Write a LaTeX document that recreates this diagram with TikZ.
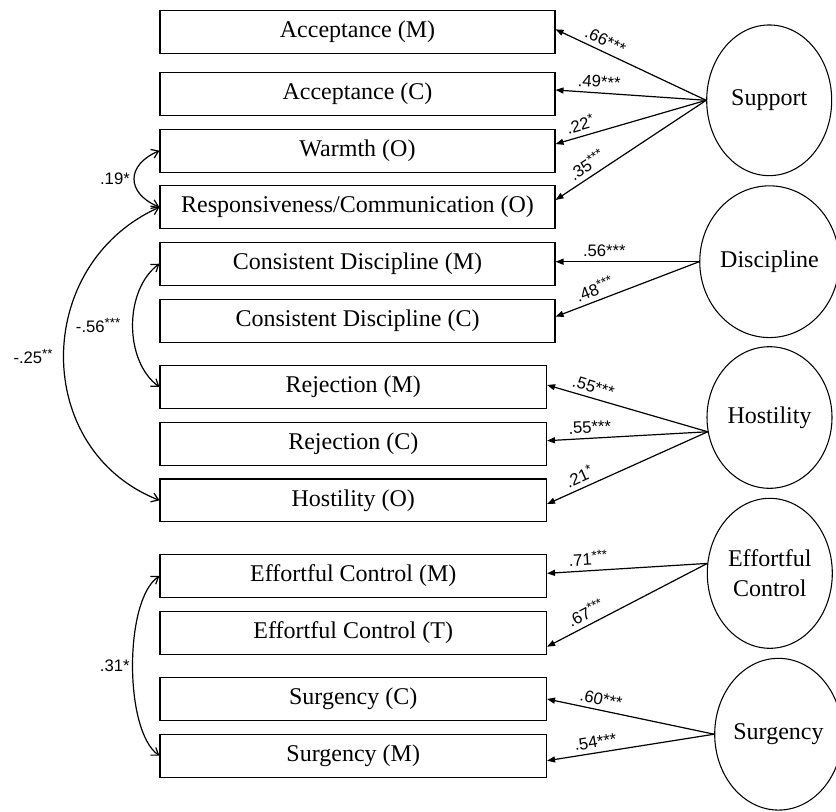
\documentclass[tikz,border=0pt]{standalone}
\usepackage{fontspec}
\setmainfont{Liberation Serif}
\newfontfamily\labfont{Liberation Sans}
\usetikzlibrary{shapes.geometric,arrows.meta,calc}

\newcommand{\sig}[1]{\raisebox{0.3em}{\fontsize{10}{10}\selectfont #1}}

\begin{document}
\begin{tikzpicture}[x=0.75pt,y=-0.75pt,
  ind/.style={draw, line width=0.8pt, minimum height=32pt, inner sep=0pt,
    font=\fontsize{18}{20}\selectfont},
  wide/.style={ind, minimum width=296.25pt},
  narrow/.style={ind, minimum width=289.9pt},
  lat/.style={draw, ellipse, line width=0.8pt, inner sep=0pt, minimum width=93.75pt,
    align=center, font=\fontsize{18}{22.5}\selectfont},
  load/.style={{Triangle[length=6pt,width=4.5pt]}-, line width=0.9pt},
  cov/.style={{Straight Barb[length=5pt,width=7pt]}-{Straight Barb[length=5pt,width=7pt]}, line width=0.9pt},
  coef/.style={font=\labfont\fontsize{12.5}{14}\selectfont, inner sep=1.5pt, sloped, above=2pt},
  clab/.style={font=\labfont\fontsize{12.5}{14}\selectfont, inner sep=1pt, anchor=east}
]
\useasboundingbox (0,0) rectangle (836,811);

% observed indicators
\node[wide] (accm)  at (357.5,32)    {Acceptance (M)};
\node[wide] (accc)  at (357.5,93.7)  {Acceptance (C)};
\node[wide] (warm)  at (357.5,150.7) {Warmth (O)};
\node[wide] (resp)  at (357.5,207.2) {Responsiveness/Communication (O)};
\node[wide] (consm) at (357.5,263.7) {Consistent Discipline (M)};
\node[wide] (consc) at (357.5,320.7) {Consistent Discipline (C)};
\node[narrow] (rejm) at (353.25,387)   {Rejection (M)};
\node[narrow] (rejc) at (353.25,443.7) {Rejection (C)};
\node[narrow] (hoso) at (353.25,500.3) {Hostility (O)};
\node[narrow] (effm) at (353.25,576)   {Effortful Control (M)};
\node[narrow] (efft) at (353.25,632.7) {Effortful Control (T)};
\node[narrow] (surc) at (353.25,699)   {Surgency (C)};
\node[narrow] (surm) at (353.25,755.7) {Surgency (M)};

% latent factors
\node[lat, minimum height=113pt]   (sup) at (769.2,100.3) {Support};
\node[lat, minimum height=113.8pt] (dis) at (769.5,261.7) {Discipline};
\node[lat, minimum height=106.2pt] (hos) at (769.5,417.5) {Hostility};
\node[lat, minimum height=112.5pt] (eff) at (769.8,573.3) {Effortful\\Control};
\node[lat, minimum height=113.8pt] (sur) at (778.5,734.2) {Surgency};

% factor loadings
\draw[load] ([yshift=2pt]accm.east)   -- node[coef,pos=.30] {.66***} (sup.west);
\draw[load] ([yshift=2.8pt]accc.east) -- node[coef,pos=.285] {.49***} (sup.west);
\draw[load] ([yshift=5pt]warm.east)   -- node[coef,pos=.185] {.22\sig{*}} (sup.west);
\draw[load] ([yshift=5.4pt]resp.east) -- node[coef,pos=.25] {.35\sig{***}} (sup.west);

\draw[load] (dis.west -| consm.east)   -- node[coef,pos=.34] {.56***} (dis.west);
\draw[load] ([yshift=3pt]consc.east)  -- node[coef,pos=.30] {.48\sig{***}} (dis.west);

\draw[load] ([yshift=1.5pt]rejm.east)  -- node[coef,pos=.27] {.55***} (hos.193);
\draw[load] ([yshift=2.25pt]rejc.east) -- node[coef,pos=.27] {.55***} (hos.193);
\draw[load] ([yshift=-2.8pt]hoso.east) -- node[coef,pos=.23] {.21\sig{*}} (hos.193);

\draw[load] ([yshift=2pt]effm.east)     -- node[coef,pos=.26] {.71\sig{***}} (eff.171.5);
\draw[load] ([yshift=-10.5pt]efft.east) -- node[coef,pos=.275] {.67\sig{***}} (eff.171.5);

\draw[load] (surc.east)                  -- node[coef,pos=.31] {.60***} (sur.west);
\draw[load] ([yshift=-3.75pt]surm.east)  -- node[coef,pos=.30] {.54***} (sur.west);

% residual covariances
\draw[cov] (warm.west) .. controls (126,165) and (126,193) .. (resp.west)
  node[clab,pos=.5,xshift=-2pt] {.19*};
\draw[cov] (consm.west) .. controls (124,290) and (124,361) .. (rejm.west)
  node[clab,pos=.5,xshift=-8pt] {-.56\sig{***}};
\draw[cov] (resp.west) .. controls (32,265) and (32,450) .. (hoso.west)
  node[clab,pos=.5,xshift=-7pt] {-.25\sig{**}};
\draw[cov] (effm.west) .. controls (124,600) and (124,731) .. (surm.west)
  node[clab,pos=.5,xshift=-1pt] {.31*};
\end{tikzpicture}
\end{document}
